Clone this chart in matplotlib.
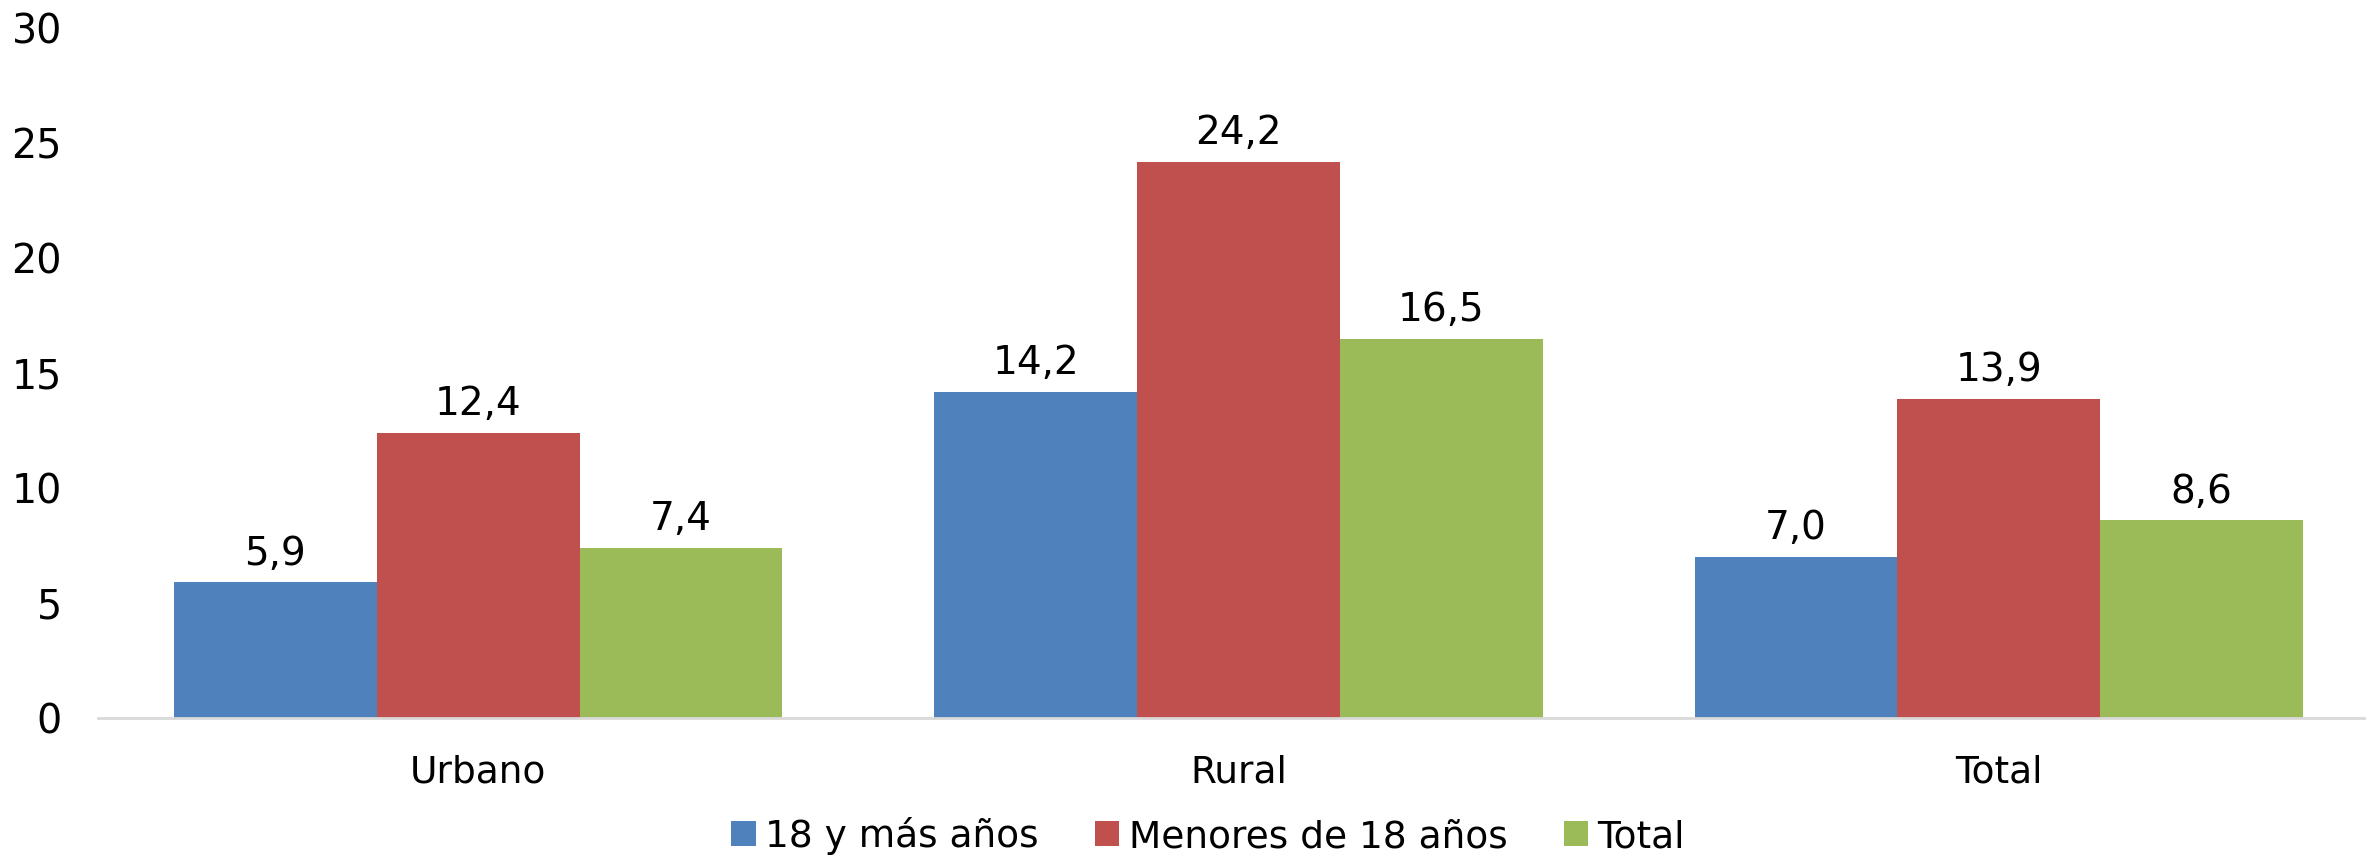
import matplotlib.pyplot as plt
import numpy as np

# Data
categories = ['Urbano', 'Rural', 'Total']
series_names = ['18 y más años', 'Menores de 18 años', 'Total']
adultos = [5.9, 14.2, 7.0]
menores = [12.4, 24.2, 13.9]
total = [7.4, 16.5, 8.6]
colors = ['#4F81BD', '#C0504D', '#9BBB59']

fig = plt.figure(figsize=(23.66, 8.55), dpi=100)
ax = fig.add_axes([98 / 2366, 0.1602, (2379 - 98) / 2366, 0.9667 - 0.1602])

x = np.arange(len(categories))
w = 1 / 3.75
for i, (vals, name, c) in enumerate(zip([adultos, menores, total], series_names, colors)):
    bars = ax.bar(x + (i - 1) * w, vals, width=w, color=c, label=name)
    for b, v in zip(bars, vals):
        ax.annotate(f'{v:.1f}'.replace('.', ','), (b.get_x() + b.get_width() / 2, v),
                    xytext=(0, 7), textcoords='offset points',
                    ha='center', va='bottom', fontsize=28)

ax.set_xlim(-0.5, 2.5)
ax.set_ylim(0, 30)
ax.set_yticks(range(0, 31, 5))
ax.set_xticks(x)
ax.set_xticklabels(categories)
ax.tick_params(axis='y', length=0, labelsize=28.5, pad=26)
ax.tick_params(axis='x', length=0, labelsize=27, pad=26)
for s in ['top', 'right', 'left']:
    ax.spines[s].set_visible(False)
ax.spines['bottom'].set_color('#D9D9D9')
ax.spines['bottom'].set_linewidth(2)

fig.legend(loc='center', bbox_to_anchor=(1208 / 2366, 1 - 836 / 855), ncol=3,
           frameon=False, fontsize=27, handlelength=0.65, handleheight=0.65,
           handletextpad=0.25, columnspacing=1.5)

fig.savefig('out.png', dpi=100)
